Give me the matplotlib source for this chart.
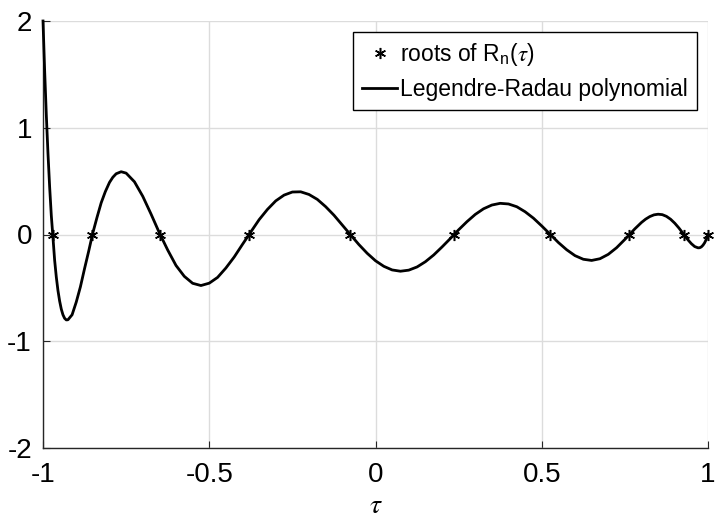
import matplotlib
matplotlib.use("Agg")
import matplotlib.pyplot as plt

# Legendre-Radau polynomial values
tau_curve = [-1.000, -0.995, -0.990, -0.985, -0.980, -0.975, -0.9707, -0.965, -0.960, -0.955,
             -0.950, -0.945, -0.940, -0.935, -0.930, -0.925, -0.9125, -0.900, -0.8875, -0.875,
             -0.8625, -0.8513, -0.850, -0.8375, -0.825, -0.8125, -0.800, -0.790, -0.780, -0.765,
             -0.750, -0.725, -0.700, -0.675, -0.650, -0.625, -0.600, -0.575, -0.550, -0.525,
             -0.500, -0.475, -0.450, -0.425, -0.400, -0.375, -0.350, -0.325, -0.300, -0.275,
             -0.250, -0.225, -0.200, -0.175, -0.150, -0.125, -0.100, -0.075, -0.050, -0.025,
             0.000, 0.025, 0.050, 0.075, 0.100, 0.125, 0.150, 0.175, 0.200, 0.225,
             0.250, 0.275, 0.300, 0.325, 0.350, 0.375, 0.400, 0.425, 0.450, 0.475,
             0.500, 0.525, 0.550, 0.575, 0.600, 0.625, 0.650, 0.675, 0.700, 0.725,
             0.750, 0.764, 0.780, 0.800, 0.8125, 0.825, 0.8375, 0.850, 0.8625, 0.875,
             0.8875, 0.900, 0.9125, 0.925, 0.9275, 0.935, 0.940, 0.950, 0.960, 0.970,
             0.975, 0.980, 0.985, 0.990, 0.995, 1.000]
r_curve = [2.000, 1.530, 1.118, 0.757, 0.445, 0.177, 0.000, -0.241, -0.398, -0.525,
           -0.623, -0.699, -0.752, -0.785, -0.800, -0.799, -0.752, -0.633, -0.490, -0.319,
           -0.155, 0.000, 0.016, 0.161, 0.297, 0.402, 0.488, 0.536, 0.569, 0.588,
           0.575, 0.494, 0.358, 0.191, 0.015, -0.145, -0.290, -0.392, -0.457, -0.478,
           -0.456, -0.402, -0.314, -0.211, -0.092, 0.024, 0.139, 0.235, 0.315, 0.369,
           0.398, 0.400, 0.375, 0.329, 0.261, 0.181, 0.089, -0.003, -0.094, -0.176,
           -0.246, -0.298, -0.332, -0.344, -0.334, -0.304, -0.255, -0.192, -0.117, -0.038,
           0.044, 0.120, 0.188, 0.241, 0.276, 0.292, 0.286, 0.260, 0.213, 0.153,
           0.080, 0.003, -0.075, -0.143, -0.198, -0.232, -0.243, -0.227, -0.186, -0.124,
           -0.046, 0.000, 0.053, 0.113, 0.144, 0.168, 0.184, 0.190, 0.186, 0.170,
           0.143, 0.106, 0.061, 0.010, 0.000, -0.031, -0.051, -0.086, -0.113, -0.125,
           -0.124, -0.116, -0.100, -0.077, -0.044, 0.000]

# Roots of R_n(tau)
tau_roots = [-0.9707, -0.8513, -0.6478, -0.3800, -0.0757, 0.2364, 0.5258, 0.7639, 0.9275, 1.0000]
r_roots = [0, 0, 0, 0, 0, 0, 0, 0, 0, 0]

x_ticks = [-1, -0.5, 0, 0.5, 1]
x_tick_labels = ["-1", "-0.5", "0", "0.5", "1"]
y_ticks = [-2, -1, 0, 1, 2]
y_tick_labels = ["-2", "-1", "0", "1", "2"]

plt.rcParams["font.family"] = ["Liberation Sans", "DejaVu Sans"]
plt.rcParams["mathtext.fontset"] = "custom"
plt.rcParams["mathtext.rm"] = "Liberation Sans"
plt.rcParams["mathtext.sf"] = "Liberation Sans"
plt.rcParams["mathtext.it"] = "STIXGeneral:italic"

fig = plt.figure(figsize=(7.21, 5.23), dpi=100)
ax = fig.add_axes([43 / 721, 1 - 448 / 523, (708 - 43) / 721, (448 - 21) / 523])

ax.plot(tau_roots, r_roots, linestyle="none", marker=(6, 2, 0), markersize=8,
        markeredgewidth=1.1, color="black", label=r"roots of R$_{\mathrm{n}}$($\tau$)",
        zorder=4, clip_on=False)
ax.plot(tau_curve, r_curve, color="black", linewidth=2.0,
        label="Legendre-Radau polynomial", zorder=3, clip_on=False)

ax.set_xlim(-1, 1)
ax.set_ylim(-2, 2)
ax.set_xticks(x_ticks)
ax.set_xticklabels(x_tick_labels)
ax.set_yticks(y_ticks)
ax.set_yticklabels(y_tick_labels)

ax.grid(True, color="#dcdcdc", linewidth=1.0)
ax.set_axisbelow(True)
for side in ["top", "right"]:
    ax.spines[side].set_visible(False)
for side in ["left", "bottom"]:
    ax.spines[side].set_color("#262626")
    ax.spines[side].set_linewidth(1.0)

ax.tick_params(axis="both", direction="in", length=5, width=0.8, colors="#262626",
               labelsize=20, labelcolor="black")
ax.tick_params(axis="x", pad=10)
ax.tick_params(axis="y", pad=8)

ax.set_xlabel(r"$\tau$", fontsize=20, labelpad=4)

leg = ax.legend(loc="upper right", bbox_to_anchor=(0.983, 0.975), fontsize=16.5,
                frameon=True, fancybox=False, framealpha=1, edgecolor="black",
                handlelength=1.55, handletextpad=0.1, borderpad=0.4, labelspacing=0.45,
                borderaxespad=0)
leg.get_frame().set_linewidth(1.0)

fig.savefig("out.png", dpi=100)
